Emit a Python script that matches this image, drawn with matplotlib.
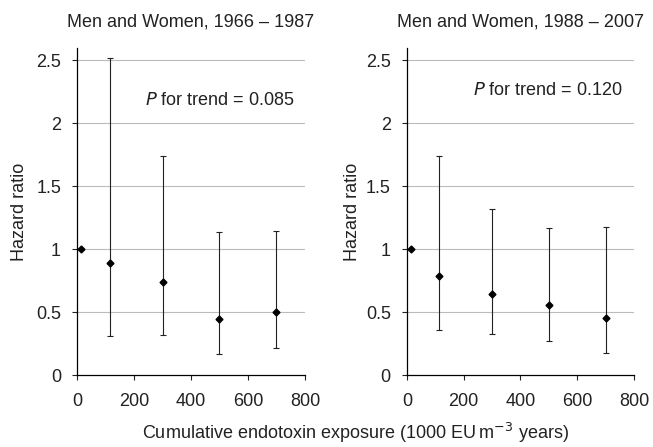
import matplotlib.pyplot as plt
import numpy as np

plt.rcParams['font.family'] = ['Liberation Sans', 'DejaVu Sans']

# exposure categories (midpoints, 1000 EU m-3 years)
exposure = [15, 115, 300, 500, 700]

# 1966 - 1987
hr_early = [1.0, 0.89, 0.74, 0.45, 0.50]
lo_early = [1.0, 0.31, 0.32, 0.17, 0.22]
hi_early = [1.0, 2.52, 1.74, 1.14, 1.15]

# 1988 - 2007
hr_late = [1.0, 0.79, 0.65, 0.56, 0.46]
lo_late = [1.0, 0.36, 0.33, 0.27, 0.18]
hi_late = [1.0, 1.74, 1.32, 1.17, 1.18]

titles = ["Men and Women, 1966 \u2013 1987", "Men and Women, 1988 \u2013 2007"]
trend_text = ["0.085", "0.120"]
trend_y = [2.145, 2.225]
trend_x = [765, 761]
ylabel_x = [-0.215, -0.203]

FS = 13
TXT = '#222222'

fig = plt.figure(figsize=(6.53, 4.47), dpi=100)
ax1 = fig.add_axes([0.118, 0.160, 0.349, 0.733])
ax2 = fig.add_axes([0.623, 0.160, 0.348, 0.733])

panels = [(ax1, hr_early, lo_early, hi_early), (ax2, hr_late, lo_late, hi_late)]
for i, (ax, hr, lo, hi) in enumerate(panels):
    hr = np.array(hr)
    yerr = [hr - np.array(lo), np.array(hi) - hr]
    ax.errorbar(exposure, hr, yerr=yerr, fmt='D', color='black', ms=3.5,
                ecolor='#222222', elinewidth=0.8, capsize=2, capthick=0.8, zorder=3)
    ax.set_xlim(0, 800)
    ax.set_ylim(0, 2.6)
    ax.set_xticks([0, 200, 400, 600, 800])
    ax.set_yticks([0, 0.5, 1, 1.5, 2, 2.5])
    ax.set_yticklabels(['0', '0.5', '1', '1.5', '2', '2.5'])
    for g in [0.5, 1, 1.5, 2, 2.5]:
        ax.axhline(g, color='#bbbbbb', lw=0.8, zorder=1)
    ax.spines['top'].set_visible(False)
    ax.spines['right'].set_visible(False)
    ax.spines['left'].set_linewidth(0.9)
    ax.spines['bottom'].set_linewidth(0.9)
    ax.tick_params(axis='both', labelsize=FS, length=3.5, width=0.8, direction='out',
                   colors=TXT)
    ax.tick_params(axis='x', pad=9)
    ax.tick_params(axis='y', pad=8)
    ax.set_ylabel("Hazard ratio", fontsize=FS, color=TXT)
    ax.yaxis.set_label_coords(ylabel_x[i], 0.5)
    ax.text(0.5, 1.064, titles[i], transform=ax.transAxes, fontsize=FS,
            ha='center', va='baseline', color=TXT)
    ax.text(trend_x[i], trend_y[i], "$\\it{P}$ for trend = " + trend_text[i],
            fontsize=FS, ha='right', va='baseline', color=TXT)

fig.text(0.545, 0.018, "Cumulative endotoxin exposure (1000 EU\u2009m$^{-3}$ years)",
         ha='center', va='baseline', fontsize=FS, color=TXT)

fig.savefig("out.png", dpi=100)
